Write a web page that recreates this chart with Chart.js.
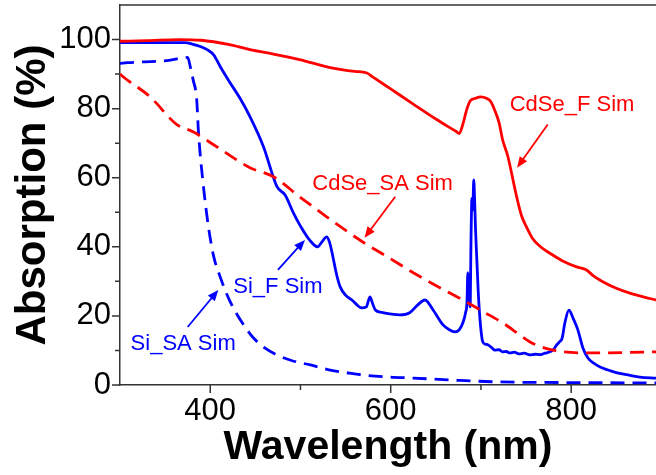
<!DOCTYPE html>
<html>
<head>
<meta charset="utf-8">
<script src="https://cdn.jsdelivr.net/npm/chart.js@4"></script>
<style>
    html, body { margin: 0; padding: 0; background: #fff; }
    #wrap { width: 656px; height: 475px; }
</style>
</head>
<body>
<div id="wrap"><canvas id="chart" width="656" height="475"></canvas></div>
<script>
// ── Data (wavelength nm / absorption %) ─────────────────────────
const cdseFX = [300, 330, 366, 390, 420, 444, 470, 499, 533, 560, 573, 580, 600, 625, 650, 673, 676, 680, 684, 688, 694, 700, 706, 711, 715, 720, 724, 730, 735, 740, 745, 750, 757, 766, 776, 790, 806, 817, 825, 835, 850, 865, 880, 894];
const cdseFY = [99.5, 99.7, 100, 99.8, 98.6, 97.1, 95.8, 94.2, 91.9, 90.8, 90.4, 89.2, 85.7, 81.3, 77, 73.3, 72.8, 75.5, 79.5, 82.2, 83, 83.4, 83, 82, 79.7, 76, 71, 66, 60, 54, 49, 46, 42.5, 40, 38.2, 36, 34.2, 33.3, 31.5, 29.9, 28, 26.6, 25.5, 24.6];

const cdseSAX = [300, 305.5, 333, 363, 381, 407, 444, 470, 499, 529, 569, 597, 625, 652, 680, 702, 724, 743, 754, 762, 780, 791, 813, 829, 860, 894];
const cdseSAY = [90, 88.8, 83.5, 75.4, 73.3, 69, 62.9, 60.3, 54.5, 48.7, 41.4, 37, 32.5, 28.5, 24.6, 21.3, 18, 14.5, 12.5, 11.5, 10.1, 9.6, 9.3, 9.3, 9.4, 9.6];

const siFX = [300, 340, 372, 380, 389, 397, 404, 411, 422, 433, 444, 459, 474, 483, 492, 500, 510, 519, 524, 529, 532, 535, 540, 544, 550, 557, 568, 573, 577, 580, 583, 590, 599, 610, 621, 630, 638, 647, 658, 665, 671, 676, 680, 683, 684.5, 685.5, 686.5, 688, 689, 690, 691, 692, 693, 694, 695.5, 697, 699, 702, 705, 708, 712, 715.5, 720, 724, 728, 732, 737, 742, 748, 754, 760, 766, 771, 776.5, 780, 784, 787, 790, 793, 797.5, 802, 807.5, 813, 818.6, 825, 832, 840, 851, 865, 876, 894];
const siFY = [99.1, 99.1, 99.1, 98.7, 98, 97, 95.5, 92.2, 87.5, 83, 77.7, 69, 57.4, 55, 49.9, 46, 42, 40, 41.5, 42.9, 41.5, 38.3, 32, 28.4, 26, 24.6, 22.3, 22.6, 25.5, 23.5, 21.7, 21, 20.6, 20.3, 20.9, 23.2, 24.6, 21.7, 17.4, 16, 15.4, 16, 18, 21, 23.8, 32.5, 28, 22.6, 42, 54, 50.7, 59.4, 53.6, 45, 36, 27, 18.8, 12.5, 11.8, 11.6, 10.8, 10.1, 10.2, 9.6, 9.7, 9.3, 9.5, 9.0, 9.2, 8.7, 8.9, 8.8, 9.2, 9.6, 10.2, 11.6, 12.5, 13.6, 18, 21.7, 19.4, 15.9, 10.7, 7.8, 6.3, 5.2, 4.4, 3.5, 2.8, 2.3, 2.0];

const siSAX = [300, 308, 352, 375, 378, 381, 385, 387, 392, 398, 404, 411, 418, 425, 436, 447, 460, 474, 490, 511, 533, 550, 569, 600, 625, 670, 718, 800, 894];
const siSAY = [93.1, 93.3, 93.9, 94.8, 92, 88.4, 82.6, 73, 58.6, 45.8, 37, 31.3, 26.5, 22.6, 17.8, 13.9, 10.8, 8.7, 7.1, 5.8, 4.3, 3.6, 2.9, 2.3, 2, 1.4, 0.9, 0.7, 0.6];

// ── Axis ticks ──────────────────────────────────────────────────
const xMajor = [400, 600, 800];
const xMinor = [500, 700];
const yMajor = [0, 20, 40, 60, 80, 100];
const yMinor = [10, 30, 50, 70, 90];

// ── Labels with arrows (data coords: text centre, arrow from → to)
const notes = [
    { text: 'CdSe_F Sim',  color: '#ff0000', at: [801, 81.2], from: [774, 75.4], to: [740, 62.9] },
    { text: 'CdSe_SA Sim', color: '#ff0000', at: [591, 58.3], from: [605, 54.5], to: [571, 42.6] },
    { text: 'Si_F Sim',    color: '#0000ff', at: [475, 28.4], from: [475, 33.3], to: [505, 42] },
    { text: 'Si_SA Sim',   color: '#0000ff', at: [370, 11.9], from: [375, 16.8], to: [409, 27.5] }
];

const FONT = "'Liberation Sans', Arial, sans-serif";
const zip = (xs, ys) => xs.map((x, i) => ({ x: x, y: ys[i] }));

function series(label, xs, ys, color, dashed) {
    return {
        label: label,
        data: zip(xs, ys),
        borderColor: color,
        borderWidth: 2.8,
        borderDash: dashed ? [14, 8] : [],
        pointRadius: 0,
        cubicInterpolationMode: 'monotone',
        fill: false
    };
}

// ── Frame, tick marks and annotations ───────────────────────────
const decor = {
    id: 'decor',
    afterDraw(chart) {
        const ctx = chart.ctx;
        const a = chart.chartArea;
        const xs = chart.scales.x, ys = chart.scales.y;
        ctx.save();
        ctx.strokeStyle = '#333';
        ctx.lineWidth = 1.5;

        // top frame line
        ctx.beginPath();
        ctx.moveTo(a.left, a.top);
        ctx.lineTo(a.right, a.top);
        ctx.stroke();

        // ticks, pointing outward
        ctx.beginPath();
        xMajor.concat(xMinor).forEach(v => {
            const px = xs.getPixelForValue(v);
            const len = xMajor.includes(v) ? 8 : 5;
            ctx.moveTo(px, a.bottom);
            ctx.lineTo(px, a.bottom + len);
        });
        yMajor.concat(yMinor).forEach(v => {
            const py = ys.getPixelForValue(v);
            const len = yMajor.includes(v) ? 8 : 5;
            ctx.moveTo(a.left, py);
            ctx.lineTo(a.left - len, py);
        });
        ctx.stroke();

        // annotations
        ctx.font = '22px ' + FONT;
        ctx.textAlign = 'center';
        ctx.textBaseline = 'middle';
        notes.forEach(n => {
            ctx.fillStyle = n.color;
            ctx.strokeStyle = n.color;
            ctx.fillText(n.text, xs.getPixelForValue(n.at[0]), ys.getPixelForValue(n.at[1]));

            const x1 = xs.getPixelForValue(n.from[0]), y1 = ys.getPixelForValue(n.from[1]);
            const x2 = xs.getPixelForValue(n.to[0]),   y2 = ys.getPixelForValue(n.to[1]);
            const ang = Math.atan2(y2 - y1, x2 - x1);
            const head = 11, half = 4.5;
            ctx.lineWidth = 1.8;
            ctx.beginPath();
            ctx.moveTo(x1, y1);
            ctx.lineTo(x2 - Math.cos(ang) * head * 0.8, y2 - Math.sin(ang) * head * 0.8);
            ctx.stroke();
            ctx.beginPath();
            ctx.moveTo(x2, y2);
            ctx.lineTo(x2 - Math.cos(ang) * head + Math.sin(ang) * half, y2 - Math.sin(ang) * head - Math.cos(ang) * half);
            ctx.lineTo(x2 - Math.cos(ang) * head - Math.sin(ang) * half, y2 - Math.sin(ang) * head + Math.cos(ang) * half);
            ctx.closePath();
            ctx.fill();
        });
        ctx.restore();
    }
};

new Chart(document.getElementById('chart').getContext('2d'), {
    type: 'line',
    data: {
        datasets: [
            series('CdSe_F Sim',  cdseFX,  cdseFY,  '#ff0000', false),
            series('CdSe_SA Sim', cdseSAX, cdseSAY, '#ff0000', true),
            series('Si_F Sim',    siFX,    siFY,    '#0000ff', false),
            series('Si_SA Sim',   siSAX,   siSAY,   '#0000ff', true)
        ]
    },
    options: {
        responsive: false,
        animation: false,
        layout: { padding: { top: 5, right: 0, left: 0, bottom: 0 } },
        plugins: {
            legend: { display: false },
            tooltip: { enabled: false }
        },
        scales: {
            x: {
                type: 'linear',
                min: 300,
                max: 894,
                afterFit: s => { s.height = 90; s.paddingLeft = 0; s.paddingRight = 0; },
                afterBuildTicks: s => { s.ticks = xMajor.concat(xMinor).sort((a, b) => a - b).map(v => ({ value: v })); },
                grid: { drawOnChartArea: false, color: 'rgba(0,0,0,0)', tickLength: 8 },
                border: { display: true, color: '#333', width: 1.5 },
                ticks: {
                    color: '#000',
                    font: { family: FONT, size: 31 },
                    padding: 0,
                    maxRotation: 0,
                    autoSkip: false,
                    callback: v => xMajor.includes(v) ? String(v) : ''
                },
                title: {
                    display: true,
                    text: 'Wavelength (nm)',
                    color: '#000',
                    font: { family: FONT, size: 41, weight: 'bold' },
                    padding: { top: 0, bottom: 3 }
                }
            },
            y: {
                min: 0,
                max: 110,
                afterFit: s => { s.width = 120; s.paddingTop = 0; s.paddingBottom = 0; },
                afterBuildTicks: s => { s.ticks = yMajor.concat(yMinor).sort((a, b) => a - b).map(v => ({ value: v })); },
                grid: { drawOnChartArea: false, color: 'rgba(0,0,0,0)', tickLength: 8 },
                border: { display: true, color: '#333', width: 1.5 },
                ticks: {
                    color: '#000',
                    font: { family: FONT, size: 31 },
                    padding: 1,
                    autoSkip: false,
                    callback: v => yMajor.includes(v) ? String(v) : ''
                },
                title: {
                    display: true,
                    text: 'Absorption (%)',
                    color: '#000',
                    font: { family: FONT, size: 42, weight: 'bold' },
                    padding: { top: 8, bottom: 0 }
                }
            }
        }
    },
    plugins: [decor]
});
</script>
</body>
</html>
